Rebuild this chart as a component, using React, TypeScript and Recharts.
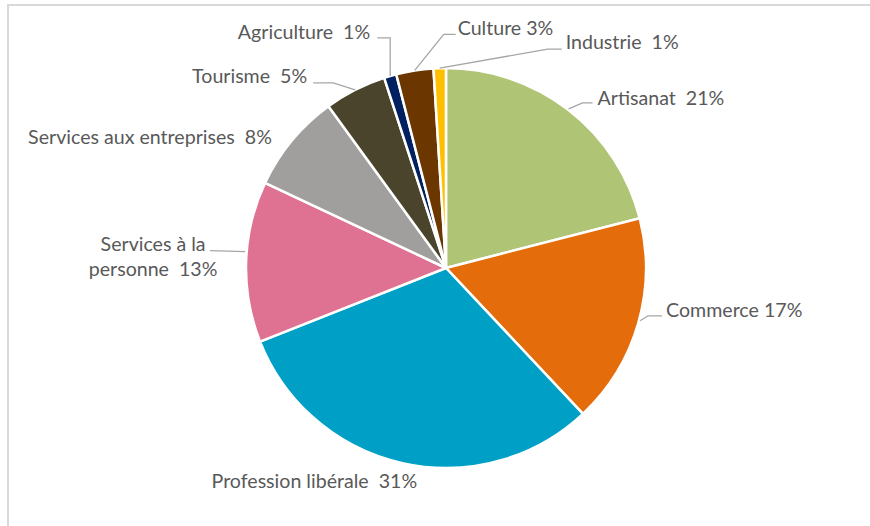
import { PieChart, Pie, Cell } from 'recharts'

const categories = ['Artisanat', 'Commerce', 'Profession libérale', 'Services à la personne', 'Services aux entreprises', 'Tourisme', 'Agriculture', 'Culture', 'Industrie']
const shares = [21, 17, 31, 13, 8, 5, 1, 3, 1]
const labelTexts = [
  ['Artisanat  21%'],
  ['Commerce 17%'],
  ['Profession libérale  31%'],
  ['Services à la', 'personne  13%'],
  ['Services aux entreprises  8%'],
  ['Tourisme  5%'],
  ['Agriculture  1%'],
  ['Culture 3%'],
  ['Industrie  1%'],
]
const colors = ['#AFC474', '#E46C0A', '#00A0C6', '#DF7292', '#A09F9D', '#4B442D', '#002060', '#6B3600', '#FFC000']

const data = categories.map((name, i) => ({ name, value: shares[i] }))

// label placement, offsets from the slice's arc midpoint
type LabelLayout = { line?: number[][]; text: number[]; anchor: 'start' | 'middle' | 'end' }
const LAYOUT: LabelLayout[] = [
  { line: [[0, -1], [14, -7], [24, -7]], text: [29, -5], anchor: 'start' },
  { line: [[2, -3], [10, -8], [24, -8]], text: [28, -7], anchor: 'start' },
  { text: [-88, 25], anchor: 'middle' },
  { line: [[-1, -10], [-36, -11]], text: [-93, -11], anchor: 'middle' },
  { text: [-20, 3], anchor: 'end' },
  { line: [[0, 0], [-22, -7], [-42, -7]], text: [-48, -7], anchor: 'end' },
  { line: [[0, 0], [0, -38], [-13, -38]], text: [-20, -37], anchor: 'end' },
  { line: [[0, 0], [29, -36], [41, -36]], text: [43, -35], anchor: 'start' },
  { line: [[0, 0], [108, -19], [122, -19]], text: [126, -19], anchor: 'start' },
]

const RAD = Math.PI / 180

function renderLabel(props: any) {
  const { cx, cy, midAngle, outerRadius, index } = props
  const ax = cx + outerRadius * Math.cos(-midAngle * RAD)
  const ay = cy + outerRadius * Math.sin(-midAngle * RAD)
  const lay = LAYOUT[index]
  const lines = labelTexts[index]
  return (
    <g>
      {lay.line && (
        <polyline
          points={lay.line.map(p => `${ax + p[0]},${ay + p[1]}`).join(' ')}
          fill="none" stroke="#A6A6A6" strokeWidth={1.3}
        />
      )}
      <text
        x={ax + lay.text[0]} y={ay + lay.text[1]} textAnchor={lay.anchor}
        fill="#595959" fontSize={19.6} fontFamily="Lato, sans-serif" style={{ whiteSpace: 'pre' }}
      >
        {lines.map((t, k) => (
          <tspan key={k} x={ax + lay.text[0]} dy={k === 0 ? 0 : 25}>{t}</tspan>
        ))}
      </text>
    </g>
  )
}

export default function App() {
  return (
    <div style={{ position: 'absolute', left: 0, top: 0, width: 870, height: 526, overflow: 'hidden', background: '#fff' }}>
      <div style={{ position: 'absolute', left: 7, top: 4, width: 900, height: 600, borderLeft: '2px solid #D9D9D9', borderTop: '2px solid #D9D9D9' }} />
      <div style={{ position: 'absolute', left: 0, top: 0 }}>
        <PieChart width={870} height={526} margin={{ top: 0, right: 0, bottom: 0, left: 0 }}>
          <Pie
            data={data} dataKey="value" nameKey="name"
            cx={446} cy={268} outerRadius={200}
            startAngle={90} endAngle={-270}
            stroke="#fff" strokeWidth={2.5}
            label={renderLabel} labelLine={false}
            isAnimationActive={false}
          >
            {data.map((d, i) => <Cell key={d.name} fill={colors[i]} />)}
          </Pie>
        </PieChart>
      </div>
    </div>
  )
}
